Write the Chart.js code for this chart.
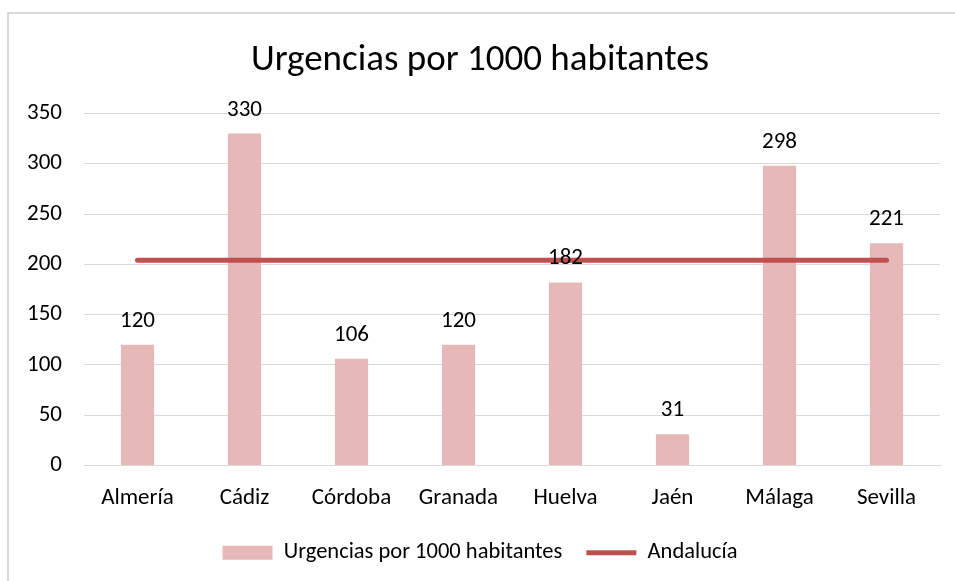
<!DOCTYPE html>
<html>
<head>
<meta charset="utf-8">
<style>
  body { margin: 0; background: #fff; overflow: hidden; }
  .frame {
    position: absolute; left: 7px; top: 12px; width: 960px; height: 600px;
    border-left: 2px solid #d9d9d9; border-top: 2px solid #d9d9d9;
  }
  .wrap { position: absolute; left: 0; top: 0; width: 955px; height: 581px; }
</style>
</head>
<body>
<div class="frame"></div>
<div class="wrap"><canvas id="urgenciasChart"></canvas></div>

<script src="https://cdn.jsdelivr.net/npm/chart.js"></script>
<script>
  const provincias = ["Almería", "Cádiz", "Córdoba", "Granada", "Huelva", "Jaén", "Málaga", "Sevilla"];
  const urgencias = [120, 330, 106, 120, 182, 31, 298, 221];
  const andalucia = [204, 204, 204, 204, 204, 204, 204, 204];
  const yTicks = [0, 50, 100, 150, 200, 250, 300, 350];

  const fontFamily = "Carlito, Calibri, 'Open Sans', sans-serif";
  Chart.defaults.font.family = fontFamily;
  Chart.defaults.color = "#000";

  // labels above the bars
  const barLabels = {
    id: "barLabels",
    afterDatasetsDraw(chart) {
      const ctx = chart.ctx;
      const meta = chart.getDatasetMeta(0);
      ctx.save();
      ctx.font = "23px " + fontFamily;
      ctx.fillStyle = "#000";
      ctx.textAlign = "center";
      ctx.textBaseline = "alphabetic";
      meta.data.forEach((bar, i) => {
        ctx.fillText(urgencias[i], bar.x, bar.y - 18);
      });
      ctx.restore();
    },
  };

  new Chart(document.getElementById("urgenciasChart"), {
    data: {
      labels: provincias,
      datasets: [
        {
          type: "bar",
          label: "Urgencias por 1000 habitantes",
          data: urgencias,
          backgroundColor: "#e6b8b7",
          categoryPercentage: 1,
          barPercentage: 0.31,
          pointStyle: "rect",
          order: 2,
        },
        {
          type: "line",
          label: "Andalucía",
          data: andalucia,
          borderColor: "#c0504d",
          backgroundColor: "#c0504d",
          borderWidth: 5,
          borderCapStyle: "round",
          pointRadius: 0,
          pointStyle: "line",
          order: 1,
        },
      ],
    },
    options: {
      responsive: true,
      maintainAspectRatio: false,
      animation: false,
      layout: { padding: { top: 0, right: 15, left: 20, bottom: 7 } },
      plugins: {
        title: {
          display: true,
          text: "Urgencias por 1000 habitantes",
          font: { size: 37, weight: "normal" },
          color: "#000",
          padding: { top: 39, bottom: 30 },
        },
        legend: {
          position: "bottom",
          labels: {
            usePointStyle: true,
            pointStyleWidth: 50,
            boxHeight: 14,
            padding: 24,
            font: { size: 22.5 },
            color: "#000",
            sort: (a, b) => a.datasetIndex - b.datasetIndex,
          },
        },
        tooltip: { enabled: false },
      },
      scales: {
        x: {
          grid: { display: false },
          border: { color: "#d9d9d9" },
          ticks: { font: { size: 23 }, color: "#000", padding: 11 },
          afterFit: (axis) => { axis.height = 52; },
        },
        y: {
          min: 0,
          max: 350,
          afterBuildTicks: (axis) => {
            axis.ticks = yTicks.map((v) => ({ value: v }));
          },
          grid: { color: "#d9d9d9", lineWidth: 1, drawTicks: false },
          border: { display: false },
          ticks: { font: { size: 23 }, color: "#000", padding: 22 },
          afterFit: (axis) => { axis.width = 64; },
        },
      },
    },
    plugins: [barLabels],
  });
</script>
</body>
</html>
